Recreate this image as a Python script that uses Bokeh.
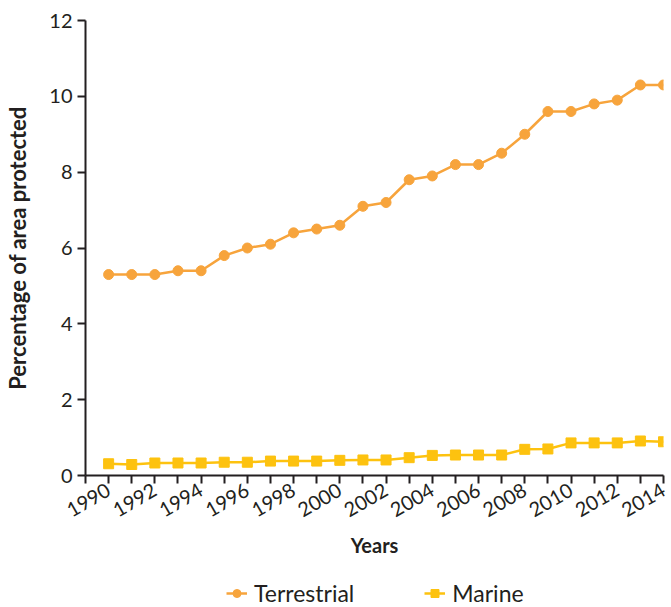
import math
from bokeh.plotting import figure
from bokeh.layouts import column
from bokeh.models import Range1d, FixedTicker, Legend, LegendItem
from bokeh.embed import file_html
from bokeh.resources import INLINE

years = list(range(1990, 2015))
terrestrial = [5.3, 5.3, 5.3, 5.4, 5.4, 5.8, 6.0, 6.1, 6.4, 6.5, 6.6, 7.1, 7.2, 7.8, 7.9,
               8.2, 8.2, 8.5, 9.0, 9.6, 9.6, 9.8, 9.9, 10.3, 10.3]
marine = [0.31, 0.29, 0.33, 0.33, 0.33, 0.35, 0.35, 0.38, 0.38, 0.38, 0.40, 0.41, 0.41, 0.47,
          0.53, 0.54, 0.54, 0.54, 0.69, 0.70, 0.86, 0.86, 0.86, 0.91, 0.89]
y_ticks = [0, 2, 4, 6, 8, 10, 12]

FONT = "Lato"
AXIS_COLOR = "#231F20"
TEXT_COLOR = "#231F20"
ORANGE = "#F7A43C"
YELLOW = "#FDC20F"

p = figure(width=671, height=575, output_backend="svg", toolbar_location=None,
           x_range=Range1d(1989, 2014), y_range=Range1d(0, 12),
           min_border_left=85, min_border_right=8, min_border_top=20, min_border_bottom=100)
p.outline_line_color = None
p.xgrid.grid_line_color = None
p.ygrid.grid_line_color = None

p.line(years, terrestrial, line_color=ORANGE, line_width=2.5)
p.scatter(years, terrestrial, marker="circle", size=10, fill_color=ORANGE, line_color=ORANGE)
p.line(years, marine, line_color=YELLOW, line_width=2.5)
p.scatter(years, marine, marker="square", size=10, fill_color=YELLOW, line_color=YELLOW)

xa = p.xaxis[0]
xa.ticker = FixedTicker(ticks=list(range(1989, 2015)))
xa.major_label_overrides = {y: ("" if (y % 2 == 1) else str(y)) for y in range(1989, 2015)}
xa.major_label_orientation = math.pi / 6
xa.axis_label = "Years"

ya = p.yaxis[0]
ya.ticker = FixedTicker(ticks=y_ticks)
ya.axis_label = "Percentage of area protected"

for ax in (xa, ya):
    ax.axis_line_color = AXIS_COLOR
    ax.axis_line_width = 2
    ax.major_tick_line_color = AXIS_COLOR
    ax.major_tick_line_width = 2
    ax.major_tick_out = 8
    ax.major_tick_in = 0
    ax.minor_tick_line_color = None
    ax.major_label_text_font = FONT
    ax.major_label_text_font_size = "20px"
    ax.major_label_text_color = TEXT_COLOR
    ax.axis_label_text_font = FONT
    ax.axis_label_text_font_style = "bold"
    ax.axis_label_text_color = TEXT_COLOR
    ax.major_label_standoff = 5

xa.axis_label_text_font_size = "20px"
ya.axis_label_text_font_size = "22px"
xa.axis_label_standoff = 6
ya.axis_label_standoff = 15

# Legend strip: a second figure whose ranges keep its copies of the series out of view
lg = figure(width=671, height=32, output_backend="svg", toolbar_location=None,
            x_range=Range1d(0, 1), y_range=Range1d(0, 1),
            x_axis_type=None, y_axis_type=None, min_border=0)
lg.outline_line_color = None
lg.xgrid.grid_line_color = None
lg.ygrid.grid_line_color = None
r1 = lg.line(years, terrestrial, line_color=ORANGE, line_width=2.5)
r2 = lg.scatter(years, terrestrial, marker="circle", size=9, fill_color=ORANGE, line_color=ORANGE)
r3 = lg.line(years, marine, line_color=YELLOW, line_width=2.5)
r4 = lg.scatter(years, marine, marker="square", size=11, fill_color=YELLOW, line_color=YELLOW)

legend = Legend(items=[LegendItem(label="Terrestrial", renderers=[r1, r2]),
                       LegendItem(label="Marine", renderers=[r3, r4])],
                orientation="horizontal", location=(141, 0),
                label_text_font=FONT, label_text_font_size="23px", label_text_color=TEXT_COLOR,
                border_line_color=None, background_fill_alpha=0, padding=0, margin=0,
                glyph_width=21, glyph_height=20, spacing=70, label_standoff=7)
lg.add_layout(legend, "center")

layout = column(p, lg, spacing=0)
open("out.html", "w").write(file_html(layout, INLINE))
